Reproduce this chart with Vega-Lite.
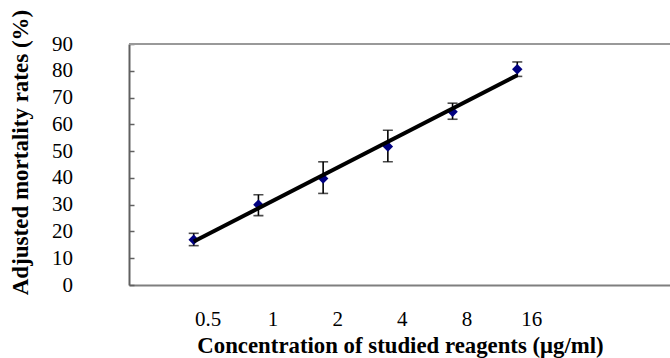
{
  "$schema": "https://vega.github.io/schema/vega-lite/v6.json",
  "autosize": "none",
  "padding": {"left": 129, "top": 44, "right": 0, "bottom": 73},
  "width": 541,
  "height": 241,
  "background": "white",
  "config": {"view": {"stroke": null}, "font": "Liberation Serif"},
  "data": {"values": [
    {"conc": "0.5", "i": 1, "rate": 16.9, "lo": 14.7, "hi": 19.3},
    {"conc": "1", "i": 2, "rate": 30.0, "lo": 25.9, "hi": 33.7},
    {"conc": "2", "i": 3, "rate": 39.8, "lo": 34.2, "hi": 46.0},
    {"conc": "4", "i": 4, "rate": 51.7, "lo": 46.0, "hi": 57.8},
    {"conc": "8", "i": 5, "rate": 64.7, "lo": 61.9, "hi": 67.9},
    {"conc": "16", "i": 6, "rate": 80.6, "lo": 77.9, "hi": 83.3}
  ]},
  "encoding": {
    "x": {
      "field": "i", "type": "quantitative",
      "scale": {"domain": [0, 8.36], "nice": false, "zero": false},
      "axis": {
        "values": [1, 2, 3, 4, 5, 6],
        "labelExpr": "['0.5','1','2','4','8','16'][datum.value-1]",
        "ticks": false, "grid": false,
        "domainColor": "#7f7f7f", "domainWidth": 2,
        "labelFont": "Liberation Serif", "labelFontSize": 21, "labelColor": "black",
        "labelOffset": 14, "labelPadding": 23, "labelFlush": false, "labelOverlap": false,
        "title": "Concentration of studied reagents (μg/ml)",
        "titleFont": "Liberation Serif", "titleFontSize": 22.8, "titleFontWeight": "bold", "titleColor": "black",
        "titleX": 271, "titleY": 67, "titleBaseline": "alphabetic", "titleAlign": "center"
      }
    },
    "y": {
      "field": "rate", "type": "quantitative",
      "scale": {"domain": [0, 90], "nice": false},
      "axis": {
        "values": [0, 10, 20, 30, 40, 50, 60, 70, 80, 90],
        "grid": false,
        "tickSize": -5, "tickColor": "#606060", "tickWidth": 1.5,
        "domainColor": "#606060", "domainWidth": 2,
        "labelFont": "Liberation Serif", "labelFontSize": 21, "labelColor": "black",
        "labelPadding": 61.6, "labelOverlap": false,
        "title": "Adjusted mortality rates (%)",
        "titleFont": "Liberation Serif", "titleFontSize": 23, "titleFontWeight": "bold", "titleColor": "black",
        "titleX": -97, "titleY": 108, "titleBaseline": "bottom", "titleAlign": "center", "titleAngle": -90
      }
    }
  },
  "layer": [
    {
      "mark": {"type": "rule", "color": "#999999", "strokeWidth": 2},
      "encoding": {"x": null, "y": {"datum": 90}}
    },
    {
      "mark": {"type": "rule", "color": "black", "strokeWidth": 1.6},
      "encoding": {
        "y": {"field": "lo", "type": "quantitative", "title": "Adjusted mortality rates (%)"},
        "y2": {"field": "hi"}
      }
    },
    {
      "mark": {"type": "tick", "orient": "horizontal", "color": "black", "size": 10, "thickness": 1.6},
      "encoding": {"y": {"field": "lo", "type": "quantitative", "title": "Adjusted mortality rates (%)"}}
    },
    {
      "mark": {"type": "tick", "orient": "horizontal", "color": "black", "size": 10, "thickness": 1.6},
      "encoding": {"y": {"field": "hi", "type": "quantitative", "title": "Adjusted mortality rates (%)"}}
    },
    {
      "mark": {"type": "point", "shape": "diamond", "filled": true, "color": "#000080", "size": 110, "opacity": 1}
    },
    {
      "transform": [{"regression": "rate", "on": "i"}],
      "mark": {"type": "line", "color": "black", "strokeWidth": 4}
    }
  ]
}
